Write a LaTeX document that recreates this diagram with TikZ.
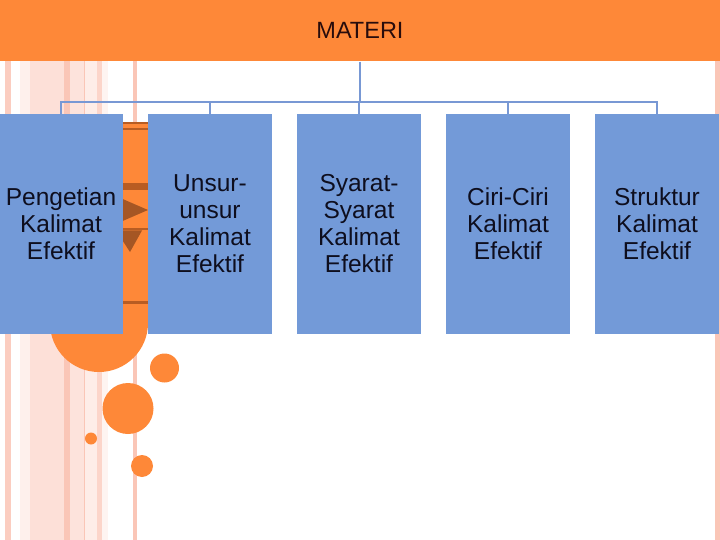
\documentclass[tikz,border=0pt]{standalone}
\usepackage{fontspec}
\setmainfont{Liberation Sans}
\definecolor{barorange}{RGB}{254,136,56}
\definecolor{boxblue}{RGB}{115,154,216}
\definecolor{connblue}{RGB}{120,152,212}
\definecolor{darkband}{RGB}{184,92,34}
\definecolor{trifill}{RGB}{165,86,36}
\definecolor{pinkA}{RGB}{251,205,192}
\definecolor{pinkB}{RGB}{254,240,236}
\definecolor{pinkC}{RGB}{253,224,216}
\definecolor{pinkD}{RGB}{250,198,183}
\definecolor{pinkE}{RGB}{253,227,220}
\definecolor{pinkF}{RGB}{254,237,232}
\definecolor{pinkG}{RGB}{252,213,202}
\definecolor{pinkH}{RGB}{254,244,241}
\definecolor{titletext}{RGB}{40,12,12}
\definecolor{boxtext}{RGB}{14,14,30}
\tikzset{
  bar/.style={fill=barorange, draw=none, minimum width=720pt, minimum height=61.5pt, inner sep=0pt,
    text=titletext, font=\fontsize{23.5}{27}\selectfont},
  topicbox/.style={fill=boxblue, draw=none, minimum width=124pt, minimum height=220pt, inner sep=0pt,
    align=center, text=boxtext, font=\fontsize{24.5}{27}\selectfont},
  conn/.style={draw=connblue, line width=2.5pt},
  deco/.style={fill=barorange, draw=none},
}
\begin{document}
\begin{tikzpicture}[x=1pt,y=-1pt]
\useasboundingbox (0,0) rectangle (720,540);
% background stripes
\fill[pinkA] (5,0) rectangle (11,540);
\fill[pinkB] (20,0) rectangle (30,540);
\fill[pinkC] (30,0) rectangle (64,540);
\fill[pinkD] (64,0) rectangle (70,540);
\fill[pinkE] (70,0) rectangle (84,540);
\fill[pinkD] (84,0) rectangle (85,540);
\fill[pinkF] (85,0) rectangle (97,540);
\fill[pinkG] (97,0) rectangle (102,540);
\fill[pinkH] (102,0) rectangle (108,540);
\fill[pinkD] (133,0) rectangle (137,540);
\fill[pinkD] (715,0) rectangle (720,540);
% orange strip with circles
\fill[deco] (50,122) rectangle (148,323);
\fill[deco] (99,323) circle[radius=49];
\fill[deco] (164.5,368) circle[radius=14.5];
\fill[deco] (128,408.5) circle[radius=25.5];
\fill[deco] (91,438.5) circle[radius=6];
\fill[deco] (142,466) circle[radius=11];
\fill[darkband] (50,122) rectangle (148,124.5);
\fill[darkband] (50,128) rectangle (148,130.5);
\fill[darkband] (50,183) rectangle (148,190.5);
\fill[darkband] (50,228) rectangle (148,230.5);
\fill[darkband] (50,301) rectangle (148,303.5);
\fill[trifill] (118,197) -- (148,210) -- (118,223) -- cycle;
\fill[trifill] (116,230.5) -- (142,230.5) -- (130,252) -- cycle;
% title bar
\node[bar] (materi) at (360,30.75) {MATERI};
% topic boxes
\node[topicbox] (b1) at (61,224) {Pengetian\\Kalimat\\Efektif};
\node[topicbox] (b2) at (210,224) {Unsur-\\unsur\\Kalimat\\Efektif};
\node[topicbox] (b3) at (359,224) {Syarat-\\Syarat\\Kalimat\\Efektif};
\node[topicbox] (b4) at (508,224) {Ciri-Ciri\\Kalimat\\Efektif};
\node[topicbox] (b5) at (657,224) {Struktur\\Kalimat\\Efektif};
% connectors
\coordinate (bus) at (360,102);
\draw[conn] (materi.south -| bus) -- (bus);
\foreach \b in {b1,b2,b3,b4,b5} {
  \draw[conn] (\b.north) |- (bus);
}
\end{tikzpicture}
\end{document}
